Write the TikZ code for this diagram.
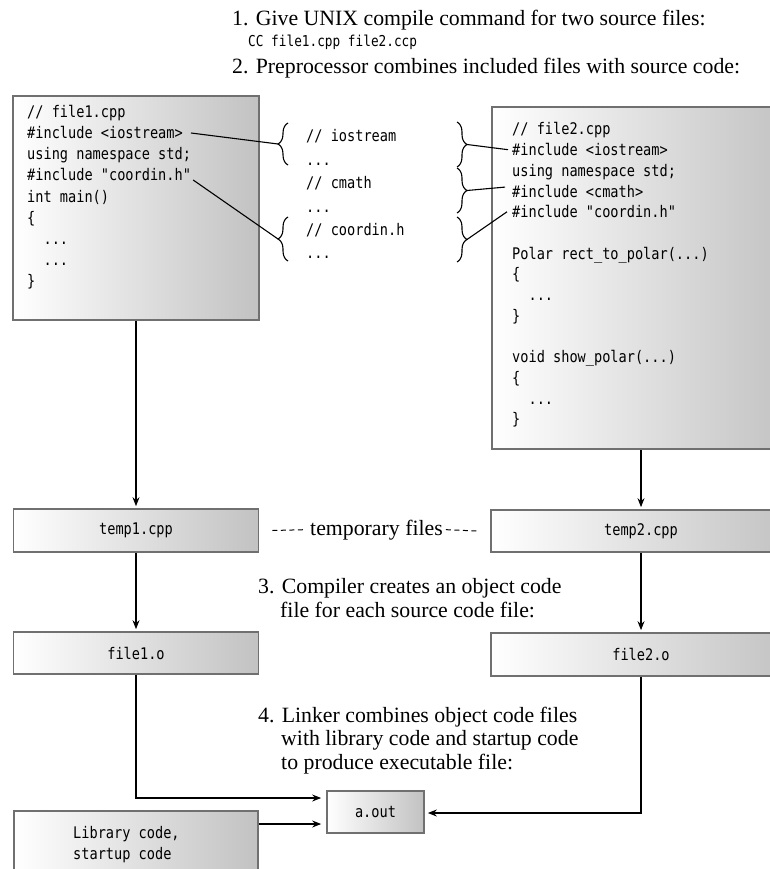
\documentclass[tikz,border=0pt]{standalone}
\usepackage{fontspec}
\setmainfont{Liberation Serif}
\newfontfamily\codefont[FakeStretch=0.85]{DejaVu Sans Mono}
\usetikzlibrary{arrows.meta,decorations.pathreplacing,calc}
\definecolor{boxedge}{HTML}{707070}
\definecolor{boxshade}{HTML}{C2C2C2}
\begin{document}
\begin{tikzpicture}[x=1pt,y=-1pt,
  filebox/.style={rectangle,draw=boxedge,line width=1.7pt,left color=white,right color=boxshade,inner sep=0pt,
    font=\codefont\fontsize{16}{20.7}\selectfont},
  code/.style={font=\codefont\fontsize{16}{20.7}\selectfont,inner sep=0pt,anchor=base west},
  capt/.style={font=\fontsize{21.8}{23.4}\selectfont,inner sep=0pt,anchor=base west},
  link/.style={line width=1.1pt},
  dashes/.style={line width=1pt,dash pattern=on 5pt off 3.5pt},
  flow/.style={line width=1.1pt,-{Stealth[length=9pt,width=7pt]}},
  curly/.style={line width=1.1pt,decorate,decoration={brace,amplitude=10pt}}]
\useasboundingbox (0,0) rectangle (770,869);
\clip (0,0) rectangle (770,869);

% captions
\node[capt] (c1) at (232,26) {1. Give UNIX compile command for two source files:};
\node[code,font=\codefont\fontsize{15}{18}\selectfont] (cmd) at (248,47) {CC file1.cpp file2.ccp};
\node[capt] (c2) at (232,74) {2. Preprocessor combines included files with source code:};
\node[capt] (c3a) at (258,593) {3. Compiler creates an object code};
\node[capt] (c3b) at (280,617) {file for each source code file:};
\node[capt] (c4a) at (258,722) {4. Linker combines object code files};
\node[capt] (c4b) at (281,745) {with library code and startup code};
\node[capt] (c4c) at (281,769) {to produce executable file:};

% boxes
\node[filebox,minimum width=246pt,minimum height=224pt] (src1) at (136,208) {};
\node[filebox,minimum width=298pt,minimum height=342pt] (src2) at (641,278) {};
\node[filebox,minimum width=245pt,minimum height=43pt] (tmp1) at (136,530.5) {temp1.cpp};
\node[filebox,minimum width=300pt,minimum height=42pt] (tmp2) at (641,531) {temp2.cpp};
\node[filebox,minimum width=245pt,minimum height=42pt] (obj1) at (136,653) {file1.o};
\node[filebox,minimum width=300pt,minimum height=43pt] (obj2) at (641,654.5) {file2.o};
\node[filebox,minimum width=97pt,minimum height=42pt] (aout) at (375.5,812) {a.out};
\node[filebox,minimum width=244pt,minimum height=94pt] (lib) at (136,858) {};
\node[code] (lib1) at (73,838) {Library code,};
\node[code] (lib2) at (73,859) {startup code};

% file1.cpp
\node[code] (a1) at (27,118) {// file1.cpp};
\node[code] (a2) at (27,139) {\#include <iostream>};
\node[code] (a3) at (27,160) {using namespace std;};
\node[code] (a4) at (27,181) {\#include "coordin.h"};
\node[code] (a5) at (27,202) {int main()};
\node[code] (a6) at (27,223) {\{};
\node[code] (a7) at (27,244) {\phantom{xx}...};
\node[code] (a8) at (27,265) {\phantom{xx}...};
\node[code] (a9) at (27,286) {\}};

% included headers
\node[code] (m1) at (306,142) {// iostream};
\node[code] (m2) at (306,165) {...};
\node[code] (m3) at (306,188) {// cmath};
\node[code] (m4) at (306,212) {...};
\node[code] (m5) at (306,235) {// coordin.h};
\node[code] (m6) at (306,258) {...};

% file2.cpp
\node[code] (b1) at (512,135) {// file2.cpp};
\node[code] (b2) at (512,155.7) {\#include <iostream>};
\node[code] (b3) at (512,176.4) {using namespace std;};
\node[code] (b4) at (512,197.1) {\#include <cmath>};
\node[code] (b5) at (512,217.8) {\#include "coordin.h"};
\node[code] (b6) at (512,259.2) {Polar rect\_to\_polar(...)};
\node[code] (b7) at (512,279.9) {\{};
\node[code] (b8) at (512,300.6) {\phantom{xx}...};
\node[code] (b9) at (512,321.3) {\}};
\node[code] (b10) at (512,362.7) {void show\_polar(...)};
\node[code] (b11) at (512,383.4) {\{};
\node[code] (b12) at (512,404.1) {\phantom{xx}...};
\node[code] (b13) at (512,424.8) {\}};

% braces
\draw[curly] (288,165) -- (288,123);
\draw[curly] (288,261) -- (288,217);
\draw[curly] (457,122) -- (457,167);
\draw[curly] (457,168) -- (457,213);
\draw[curly] (457,217) -- (457,262);
\coordinate (tL1) at (278,144);
\coordinate (tL2) at (278,239);
\coordinate (tR1) at (467,144.5);
\coordinate (tR2) at (467,190.5);
\coordinate (tR3) at (467,239.5);

% include links
\draw[link] ([xshift=8pt]a2.east) -- (tL1);
\draw[link] ([shift={(2pt,1pt)}]a4.base east) -- (tL2);
\draw[link] (tR1) -- ([xshift=-4pt]b2.west);
\draw[link] (tR2) -- ([shift={(-7pt,4pt)}]b4.west);
\draw[link] (tR3) -- ([xshift=-5pt]b5.west);

% temporary files
\node[capt] (tmpf) at (310,535) {temporary files};
\draw[dashes] ([xshift=13pt]tmp1.east) -- ([xshift=-5pt]tmpf.west);
\draw[dashes] ([xshift=3pt]tmpf.east) -- ([xshift=-13pt]tmp2.west);

% flow arrows
\draw[flow,shorten >=2pt] (src1.south) -- (tmp1.north);
\draw[flow,shorten >=2pt] (tmp1.south) -- (obj1.north);
\draw[flow,shorten >=2pt] (src2.south) -- (tmp2.north);
\draw[flow,shorten >=2pt] (tmp2.south) -- (obj2.north);
\coordinate (ain1) at ([yshift=14pt]aout.west);
\coordinate (ain2) at ([yshift=-12pt]aout.west);
\coordinate (ain3) at ([yshift=-1pt]aout.east);
\draw[flow,shorten >=5pt] (obj1.south) |- (ain1);
\draw[flow,shorten >=5pt] (lib.east |- ain2) -- (ain2);
\draw[flow,shorten >=3pt] (obj2.south) |- (ain3);
\end{tikzpicture}
\end{document}
